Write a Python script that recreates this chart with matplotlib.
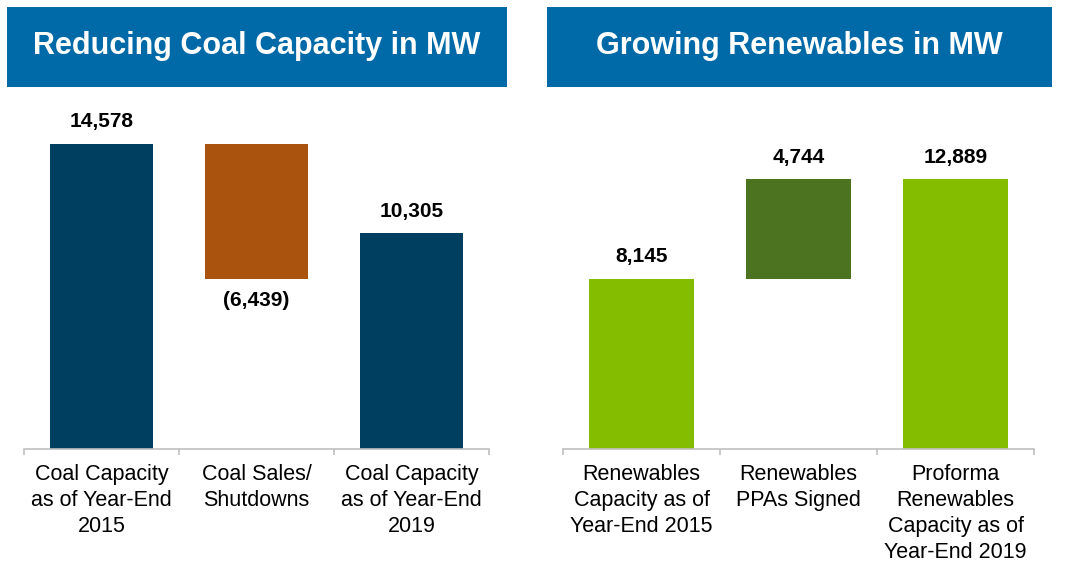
import matplotlib.pyplot as plt
from matplotlib.patches import Rectangle

plt.rcParams['font.family'] = ['Liberation Sans', 'DejaVu Sans']

coal_labels = ['Coal Capacity\nas of Year-End\n2015', 'Coal Sales/\nShutdowns',
               'Coal Capacity\nas of Year-End\n2019']
coal_values = [14578, -6439, 10305]
renew_labels = ['Renewables\nCapacity as of\nYear-End 2015', 'Renewables\nPPAs Signed',
                'Proforma\nRenewables\nCapacity as of\nYear-End 2019']
renew_values = [8145, 4744, 12889]

navy = '#003F5F'
orange = '#A9530F'
lightgreen = '#84BC00'
darkgreen = '#4C731F'
header_blue = '#0069A8'
axis_grey = '#BFBFBF'

W, H = 1074, 576
fig = plt.figure(figsize=(W / 100, H / 100), dpi=100)

# headers
def header(x0, x1, title):
    fig.patches.append(Rectangle((x0 / W, 1 - 87 / H), (x1 - x0) / W, 80 / H,
                                 transform=fig.transFigure, facecolor=header_blue,
                                 edgecolor='none'))
    fig.text((x0 + x1) / 2 / W, 1 - 46 / H, title, color='white', fontsize=22,
             fontweight='bold', ha='center', va='center')

header(7, 507, 'Reducing Coal Capacity in MW')
header(547, 1052, 'Growing Renewables in MW')

base_px = 449
top_px = 100
px_per_mw = 0.02093
ymax = (base_px - top_px) / px_per_mw


def waterfall(x0, x1, labels, values, colors):
    ax = fig.add_axes([x0 / W, 1 - base_px / H, (x1 - x0) / W, (base_px - top_px) / H])
    ax.set_xlim(-0.5, 2.5)
    ax.set_ylim(0, ymax)
    first, delta, last = values
    bottoms = [0, first + min(delta, 0), 0]
    heights = [first, abs(delta), last]
    ax.bar(range(3), heights, bottom=bottoms, width=0.665, color=colors)
    texts = [f'{first:,}', f'({abs(delta):,})' if delta < 0 else f'{delta:,}', f'{last:,}']
    for i, t in enumerate(texts):
        if i == 1 and delta < 0:
            y, off = bottoms[1], -16
        else:
            y, off = bottoms[i] + heights[i], 16
        ax.annotate(t, (i, y), xytext=(0, off), textcoords='offset points',
                    ha='center', va='center', fontsize=15, fontweight='bold')
    for s in ['top', 'left', 'right']:
        ax.spines[s].set_visible(False)
    ax.spines['bottom'].set_color(axis_grey)
    ax.spines['bottom'].set_linewidth(1.2)
    ax.set_yticks([])
    ax.set_xticks([-0.5, 0.5, 1.5, 2.5], minor=True)
    ax.tick_params(axis='x', which='minor', length=4, color=axis_grey, width=1.2)
    ax.set_xticks(range(3), labels)
    ax.tick_params(axis='x', which='major', length=0, pad=11, labelsize=15.5)
    for lab in ax.get_xticklabels():
        lab.set_linespacing(1.3)
    return ax


waterfall(24, 489, coal_labels, coal_values, [navy, orange, navy])
waterfall(563, 1034, renew_labels, renew_values, [lightgreen, darkgreen, lightgreen])

fig.savefig('out.png', dpi=100)
